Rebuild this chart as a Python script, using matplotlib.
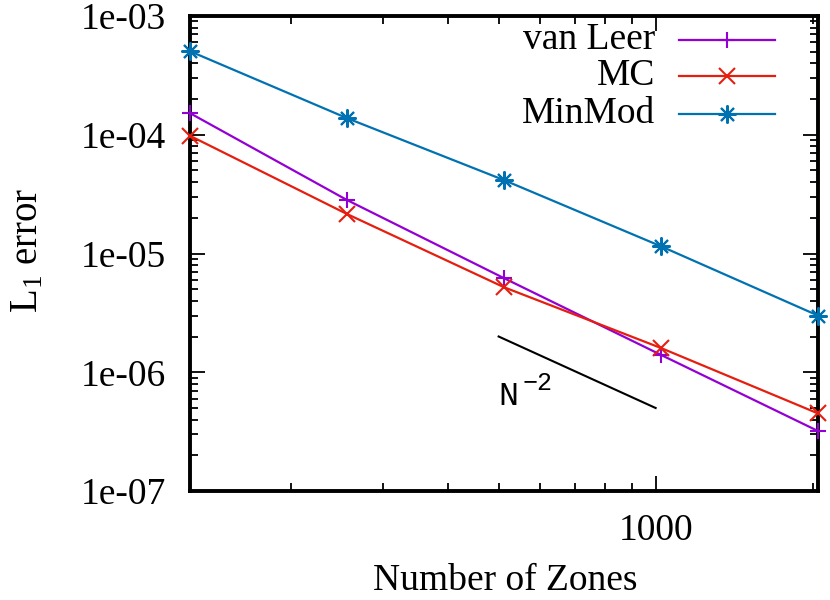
import matplotlib
matplotlib.use("Agg")
import matplotlib.pyplot as plt
from matplotlib.ticker import LogLocator, FixedLocator, NullFormatter, FixedFormatter
from matplotlib.lines import Line2D

zones = [128, 256, 512, 1024, 2048]
van_leer = [1.52e-4, 2.82e-5, 6.2e-6, 1.40e-6, 3.2e-7]
mc = [9.8e-5, 2.15e-5, 5.2e-6, 1.6e-6, 4.5e-7]
minmod = [5.05e-4, 1.38e-4, 4.15e-5, 1.15e-5, 3.0e-6]
series_names = ["van Leer", "MC", "MinMod"]
ref_x = [500, 1000]
ref_y = [2.0e-6, 5.0e-7]
ytick_vals = [1e-7, 1e-6, 1e-5, 1e-4, 1e-3]
ytick_labels = ["1e-07", "1e-06", "1e-05", "1e-04", "1e-03"]

colors = ["#9400D3", "#E51E10", "#0072B2"]
markers = ["+", "x", (8, 2, 0)]
msizes = [12, 11, 13]

plt.rcParams["font.family"] = ["Liberation Serif", "DejaVu Serif"]
plt.rcParams["mathtext.fontset"] = "custom"
plt.rcParams["mathtext.rm"] = "Liberation Serif"
plt.rcParams["mathtext.it"] = "Liberation Serif:italic"
plt.rcParams["mathtext.bf"] = "Liberation Serif:bold"

fig = plt.figure(figsize=(8.3, 6.0), dpi=100)
ax = fig.add_axes([190/830, 1-491/600, (818-190)/830, (491-16)/600])

for ys, c, m, ms in zip([van_leer, mc, minmod], colors, markers, msizes):
    ax.plot(zones, ys, color=c, marker=m, markersize=ms, markeredgewidth=1.5,
            linewidth=1.6, clip_on=False, zorder=3)

ax.plot(ref_x, ref_y, color="black", linewidth=1.5)
mono = ["Liberation Mono", "DejaVu Sans Mono"]
ax.text(500, 5.3e-7, "N", fontsize=24, family=mono, ha="left", va="baseline")
ax.annotate("\u22122", xy=(500, 5.3e-7), xytext=(17, 11), textcoords="offset points",
            fontsize=18, family=mono, ha="left", va="baseline")

ax.set_xscale("log")
ax.set_yscale("log")
ax.set_xlim(128, 2048)
ax.set_ylim(1e-7, 1e-3)

ax.xaxis.set_major_locator(FixedLocator([1000]))
ax.xaxis.set_major_formatter(FixedFormatter(["1000"]))
ax.xaxis.set_minor_locator(LogLocator(base=10, subs=range(2, 10), numticks=20))
ax.xaxis.set_minor_formatter(NullFormatter())
ax.yaxis.set_major_locator(FixedLocator(ytick_vals))
ax.yaxis.set_major_formatter(FixedFormatter(ytick_labels))
ax.yaxis.set_minor_locator(LogLocator(base=10, subs=range(2, 10), numticks=20))
ax.yaxis.set_minor_formatter(NullFormatter())

ax.tick_params(which="both", direction="in", top=True, right=True, labelsize=27, width=1.3)
ax.tick_params(axis="y", pad=17)
ax.tick_params(axis="x", pad=16)
ax.tick_params(which="major", length=11)
ax.tick_params(which="minor", length=6)
for s in ax.spines.values():
    s.set_linewidth(2.8)

fig.text(505/830, 1 - 581/600, "Number of Zones", fontsize=27, ha="center", va="center")
fig.text(28/830, 1 - 250/600, r"L$_1$ error", fontsize=28, ha="center", va="center",
         rotation=90)

# legend, gnuplot style: right-aligned text then sample
leg_rows = [40, 76, 114]
for name, c, m, ms, yp in zip(series_names, colors, markers, msizes, leg_rows):
    ya = 1 - (yp - 16) / (491 - 16)
    xt = (655 - 190) / 628
    ax.text(xt, ya, name, transform=ax.transAxes, ha="right", va="center", fontsize=27)
    x0 = (679 - 190) / 628
    x1 = (775 - 190) / 628
    ax.add_line(Line2D([x0, x1], [ya, ya], transform=ax.transAxes, color=c, linewidth=1.6))
    ax.add_line(Line2D([(x0 + x1) / 2], [ya], transform=ax.transAxes, color=c, marker=m,
                       markersize=ms, markeredgewidth=1.5, linestyle="none"))

fig.savefig("out.png", dpi=100)
